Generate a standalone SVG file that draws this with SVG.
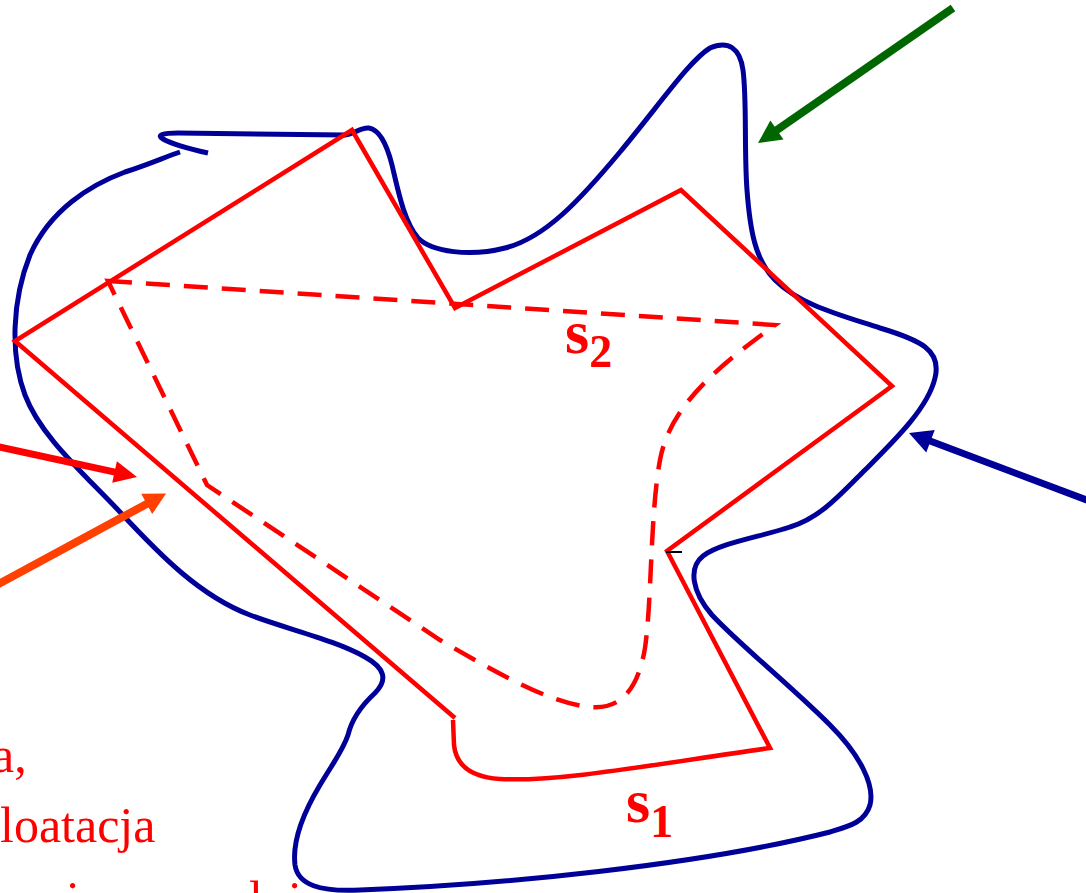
<svg xmlns="http://www.w3.org/2000/svg" width="1086" height="893" viewBox="0 0 1086 893">
<style>
.blue{fill:none;stroke:#000099;stroke-width:5;stroke-linejoin:round;stroke-linecap:butt}
.red{fill:none;stroke:#ff0000;stroke-width:4.5;stroke-linejoin:miter}
.dash{fill:none;stroke:#ff0000;stroke-width:4.5;stroke-dasharray:24 14}
.lbl{font-family:"Liberation Serif","Times New Roman",serif;font-weight:bold;fill:#ff0000;font-size:62px}
.txt{font-family:"Liberation Serif","Times New Roman",serif;fill:#ff0000;font-size:50px}
</style>
<defs>
<marker id="hGreen" markerUnits="userSpaceOnUse" markerWidth="40" markerHeight="40" refX="11" refY="0" orient="auto" overflow="visible"><path d="M0,-11.5 L23,0 L0,11.5 z" fill="#006600"/></marker>
<marker id="hBlue" markerUnits="userSpaceOnUse" markerWidth="40" markerHeight="40" refX="11" refY="0" orient="auto" overflow="visible"><path d="M0,-12 L23,0 L0,12 z" fill="#000099"/></marker>
<marker id="hRed" markerUnits="userSpaceOnUse" markerWidth="40" markerHeight="40" refX="11" refY="0" orient="auto" overflow="visible"><path d="M0,-11 L23,0 L0,11 z" fill="#ff0000"/></marker>
<marker id="hOrange" markerUnits="userSpaceOnUse" markerWidth="40" markerHeight="40" refX="11" refY="0" orient="auto" overflow="visible"><path d="M0,-11.5 L22,0 L0,11.5 z" fill="#ff4000"/></marker>
</defs>
<rect width="1086" height="893" fill="#ffffff"/>
<g id="blue-contour">
<path class="blue" d="M208,153 C190,149 172,144 163,139 C156,135 163,133 178,133 L345,135 C355,134 360,127 369,128 C380,130 387,145 392,165 C398,190 404,222 418,238 C432,252 470,257 505,248 C545,238 580,200 620,152 C660,104 690,60 710,48 C728,40 740,48 743,70 C747,100 744,150 747,190 C750,230 755,260 775,280 C800,305 840,315 880,328 C920,340 942,350 935,378 C928,408 895,440 865,470 C840,495 820,518 790,527 C760,537 720,543 703,556 C688,568 692,592 712,615 C740,645 790,685 830,725 C860,755 875,785 870,805 C865,822 850,826 830,832 C700,865 500,885 360,890 C320,892 298,885 295,865 C292,840 305,810 320,785 C335,760 343,750 348,735 C352,718 362,705 375,693 C388,680 385,668 365,657 C335,640 290,630 250,615 C200,596 160,555 120,512 C80,470 40,435 25,395 C10,355 12,300 30,255 C50,210 90,185 125,172 C150,164 165,157 180,152"/>
</g>
<g id="s1-polygon">
<path class="red" d="M455,718 L15,341 L352,130 L455,308 L681,190 L892,386 L667,551 L770,748 C650,765 560,782 500,779 C470,777 456,765 454,745 L453,720"/>
<line x1="666" y1="552" x2="682" y2="552" stroke="#000000" stroke-width="2"/>
</g>
<g id="s2-dashed">
<path class="dash" d="M108,281 L775,325 C720,365 670,405 660,460 C650,515 652,600 645,648 C638,690 620,710 590,707 C550,703 500,675 440,640 L207,485 Z"/>
</g>
<g id="labels">
<text id="label-s2" class="lbl" x="565" y="353">s<tspan font-size="46" y="367">2</tspan></text>
<text id="label-s1" class="lbl" x="626" y="822">s<tspan font-size="46" y="837">1</tspan></text>
</g>
<g id="connectors">
<line x1="953" y1="8" x2="767.9" y2="136.2" stroke="#006600" stroke-width="8" marker-end="url(#hGreen)"/>
<line x1="1092" y1="502" x2="920.2" y2="437.3" stroke="#000099" stroke-width="7" marker-end="url(#hBlue)"/>
<line x1="-5" y1="446" x2="125.3" y2="474.4" stroke="#ff0000" stroke-width="7" marker-end="url(#hRed)"/>
<line x1="-5" y1="586" x2="156.4" y2="498.7" stroke="#ff4000" stroke-width="8" marker-end="url(#hOrange)"/>
</g>
<g id="text">
<text class="txt" x="-8" y="772">a,</text>
<text class="txt" x="0" y="842">loatacja</text>
<text class="txt" x="66 249 288" y="916">ili</text>
</g>
</svg>
